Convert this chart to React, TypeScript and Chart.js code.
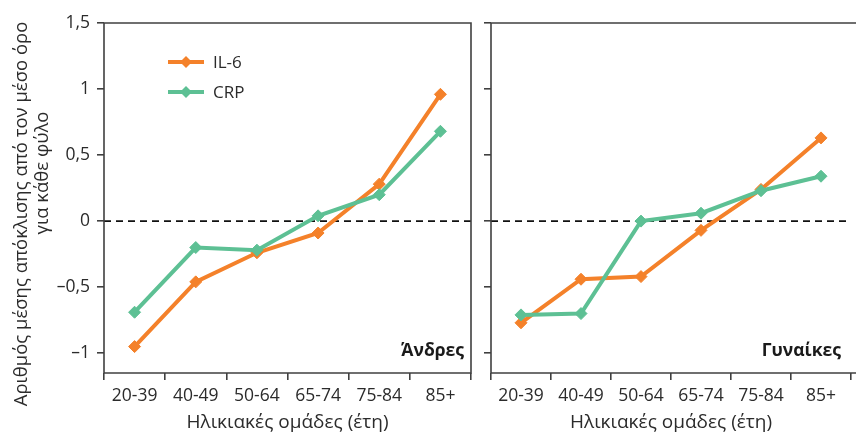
import React, { useEffect, useRef } from "react";
import { Chart, registerables } from "chart.js";

Chart.register(...registerables);

const categories = ["20-39", "40-49", "50-64", "65-74", "75-84", "85+"];
const menIL6 = [-0.95, -0.46, -0.24, -0.09, 0.28, 0.96];
const menCRP = [-0.69, -0.2, -0.22, 0.04, 0.2, 0.68];
const womenIL6 = [-0.77, -0.44, -0.42, -0.07, 0.24, 0.63];
const womenCRP = [-0.71, -0.7, 0.0, 0.06, 0.23, 0.34];
const yTickValues = [-1, -0.5, 0, 0.5, 1, 1.5];
const seriesNames = ["IL-6", "CRP"];
const seriesColors = ["#F4812A", "#5DC094"];
const panelLabels = ["Άνδρες", "Γυναίκες"];
const xTitle = "Ηλικιακές ομάδες (έτη)";
const yTitleLines = ["Αριθμός μέσης απόκλισης από τον μέσο όρο", "για κάθε φύλο"];

const FONT = "'Open Sans', 'Noto Sans', sans-serif";
const AXIS = "#404040";
const TEXT = "#2b2b2b";

function fmt(v: number) {
  return String(v).replace(".", ",").replace("-", "\u2013");
}

function makeChart(canvas: HTMLCanvasElement, idx: number) {
  const isLeft = idx === 0;
  const il6 = isLeft ? menIL6 : womenIL6;
  const crp = isLeft ? menCRP : womenCRP;

  const framePlugin = {
    id: "frame",
    beforeDatasetsDraw(chart: any) {
      const { ctx, chartArea: a, scales } = chart;
      ctx.save();
      const y0 = scales.y.getPixelForValue(0);
      ctx.strokeStyle = "#111";
      ctx.lineWidth = 1.6;
      ctx.setLineDash([7, 5]);
      ctx.beginPath();
      ctx.moveTo(a.left, y0);
      ctx.lineTo(a.right, y0);
      ctx.stroke();
      ctx.setLineDash([]);
      ctx.strokeStyle = AXIS;
      ctx.lineWidth = 1.6;
      ctx.beginPath();
      if (isLeft) {
        ctx.moveTo(a.left, a.top);
        ctx.lineTo(a.right, a.top);
        ctx.lineTo(a.right, a.bottom);
        ctx.lineTo(a.left, a.bottom);
        ctx.closePath();
      } else {
        ctx.moveTo(a.right + 5, a.top);
        ctx.lineTo(a.left, a.top);
        ctx.lineTo(a.left, a.bottom);
        ctx.lineTo(a.right + 5, a.bottom);
      }
      ctx.stroke();
      ctx.restore();
    },
    afterDatasetsDraw(chart: any) {
      const { ctx, chartArea: a } = chart;
      ctx.save();
      ctx.fillStyle = "#1a1a1a";
      ctx.font = `bold 17.5px ${FONT}`;
      ctx.textAlign = "right";
      ctx.textBaseline = "middle";
      ctx.fillText(panelLabels[idx], a.right - (isLeft ? 7 : 10), a.bottom - 22);
      if (isLeft) {
        seriesNames.forEach((name, i) => {
          const y = a.top + 39 + i * 30;
          const x0 = a.left + 64;
          const x1 = a.left + 100;
          ctx.strokeStyle = seriesColors[i];
          ctx.lineWidth = 4;
          ctx.beginPath();
          ctx.moveTo(x0, y);
          ctx.lineTo(x1, y);
          ctx.stroke();
          const cx = (x0 + x1) / 2;
          ctx.fillStyle = seriesColors[i];
          ctx.beginPath();
          ctx.moveTo(cx, y - 6);
          ctx.lineTo(cx + 6, y);
          ctx.lineTo(cx, y + 6);
          ctx.lineTo(cx - 6, y);
          ctx.closePath();
          ctx.fill();
          ctx.fillStyle = TEXT;
          ctx.font = `17px ${FONT}`;
          ctx.textAlign = "left";
          ctx.textBaseline = "middle";
          ctx.fillText(name, a.left + 109, y + 1);
        });
        ctx.fillStyle = TEXT;
        ctx.font = `18.5px ${FONT}`;
        ctx.textAlign = "center";
        ctx.textBaseline = "middle";
        ctx.save();
        ctx.translate(22, 214);
        ctx.rotate(-Math.PI / 2);
        ctx.fillText(yTitleLines[0], 0, 0);
        ctx.restore();
        ctx.save();
        ctx.translate(43, 173);
        ctx.rotate(-Math.PI / 2);
        ctx.fillText(yTitleLines[1], 0, 0);
        ctx.restore();
      }
      ctx.restore();
    },
  };

  const mkDs = (label: string, data: number[], color: string) => ({
    label,
    data,
    borderColor: color,
    backgroundColor: color,
    borderWidth: 4,
    pointStyle: "rectRot",
    pointRadius: 6,
    pointBorderWidth: 1,
    pointHoverRadius: 6,
    tension: 0,
  });

  return new Chart(canvas, {
    type: "line",
    data: {
      labels: categories,
      datasets: [
        mkDs(seriesNames[1], crp, seriesColors[1]),
        mkDs(seriesNames[0], il6, seriesColors[0]),
      ],
    },
    options: {
      animation: false,
      responsive: false,
      maintainAspectRatio: false,
      events: [],
      layout: { padding: { left: 0, top: 23, right: isLeft ? 7 : 2, bottom: 0 } },
      plugins: { legend: { display: false }, tooltip: { enabled: false } },
      scales: {
        x: {
          type: "category",
          offset: true,
          grid: {
            offset: true,
            drawOnChartArea: false,
            drawTicks: true,
            tickLength: 7,
            color: AXIS,
            lineWidth: 1.6,
          },
          border: { display: false },
          ticks: {
            color: TEXT,
            font: { family: FONT, size: 17.5, lineHeight: 1.2 },
            padding: 6,
            maxRotation: 0,
            autoSkip: false,
          },
          title: {
            display: true,
            text: xTitle,
            color: TEXT,
            font: { family: FONT, size: 19, lineHeight: 1.2 },
            padding: { top: 0, bottom: 1 },
          },
          afterFit(scale: any) {
            scale.height = 62;
          },
        },
        y: {
          type: "linear",
          min: -1.15,
          max: 1.5,
          grid: {
            drawOnChartArea: false,
            drawTicks: true,
            tickLength: 7,
            color: AXIS,
            lineWidth: 1.6,
          },
          border: { display: false },
          afterBuildTicks(scale: any) {
            scale.ticks = yTickValues.map((v) => ({ value: v }));
          },
          ticks: {
            color: TEXT,
            font: { family: FONT, size: 17.5, lineHeight: 1.2 },
            padding: 7,
            includeBounds: false,
            callback: (v: any) => (isLeft ? fmt(Number(v)) : ""),
          },
          afterFit(scale: any) {
            scale.width = isLeft ? 104 : 13;
          },
        },
      },
    },
    plugins: [framePlugin],
  } as any);
}

function Panel({ idx, left, width }: { idx: number; left: number; width: number }) {
  const ref = useRef<HTMLCanvasElement | null>(null);
  useEffect(() => {
    if (!ref.current) return;
    const c = makeChart(ref.current, idx);
    return () => c.destroy();
  }, [idx]);
  return (
    <canvas
      ref={ref}
      width={width}
      height={435}
      style={{ position: "absolute", left, top: 0, width, height: 435 }}
    />
  );
}

export default function App() {
  return (
    <div
      style={{
        position: "fixed",
        left: 0,
        top: 0,
        width: 858,
        height: 435,
        background: "#fff",
        overflow: "hidden",
      }}
    >
      <Panel idx={0} left={0} width={478} />
      <Panel idx={1} left={478} width={380} />
    </div>
  );
}
